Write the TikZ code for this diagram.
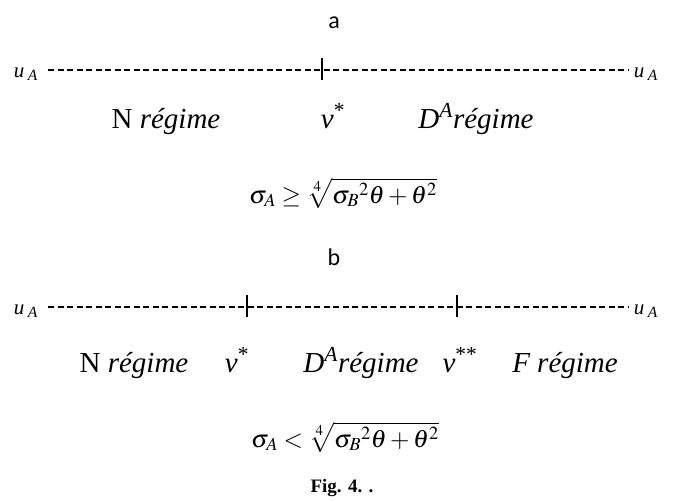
\documentclass[tikz,border=0pt]{standalone}
\usepackage{mathptmx}
\usepackage[no-math]{fontspec}
\setmainfont{Liberation Serif}
\newfontfamily\carlito{Carlito}
\usetikzlibrary{positioning}

\begin{document}
\begin{tikzpicture}[x=1pt, y=-1pt,
        panel/.style={inner sep=0pt, anchor=base, font=\carlito\fontsize{24}{28}\selectfont},
        ulbl/.style={inner sep=0pt, anchor=base, font=\fontsize{21}{25}\selectfont},
        txt/.style={inner sep=0pt, anchor=base, font=\fontsize{29}{34}\selectfont},
        frm/.style={inner sep=0pt, anchor=base, font=\fontsize{25}{30}\selectfont},
        figcap/.style={inner sep=0pt, anchor=base, font=\bfseries\fontsize{19}{22}\selectfont},
        axis/.style={line width=1.4pt, dash pattern=on 6pt off 3.5pt},
        tickmark/.style={line width=2pt}
    ]
    \useasboundingbox (0,0) rectangle (683,501);

    % panel a
    \node[panel] (pa) at (334,28) {a};
    \node[ulbl] (ua1) at (26,77) {\textit{u}\,\textsubscript{\textit{A}}};
    \node[ulbl] (ua2) at (646,77) {\textit{u}\,\textsubscript{\textit{A}}};
    \coordinate (la1) at (48,70);
    \coordinate (la2) at (628,70);
    \coordinate (ka) at (322,70);
    \draw[axis] (la1) -- (la2);
    \draw[tickmark] ([yshift=-10pt]ka) -- ([yshift=12pt]ka);

    \node[txt] (na) at (166,128) {N \textit{régime}};
    \node[txt] (va) at (333,128) {\textit{v}\textsuperscript{*}};
    \node[txt] (da) at (476,128) {\textit{D}\textsuperscript{\textit{A}}\textit{régime}};
    \node[frm] (fa) at (343,203) {$\sigma_{A} \geq \sqrt[4]{\sigma_{B}{}^{2}\theta+\theta^{2}}$};

    % panel b
    \node[panel] (pb) at (334,265) {b};
    \node[ulbl] (ub1) at (26,314) {\textit{u}\,\textsubscript{\textit{A}}};
    \node[ulbl] (ub2) at (646,314) {\textit{u}\,\textsubscript{\textit{A}}};
    \coordinate (lb1) at (48,307);
    \coordinate (lb2) at (628,307);
    \coordinate (kb1) at (247,307);
    \coordinate (kb2) at (457,307);
    \draw[axis] (lb1) -- (lb2);
    \draw[tickmark] ([yshift=-10pt]kb1) -- ([yshift=12pt]kb1);
    \draw[tickmark] ([yshift=-10pt]kb2) -- ([yshift=12pt]kb2);

    \node[txt] (nb) at (134,372) {N \textit{régime}};
    \node[txt] (vb1) at (237,372) {\textit{v}\textsuperscript{*}};
    \node[txt] (db) at (361,372) {\textit{D}\textsuperscript{\textit{A}}\textit{régime}};
    \node[txt] (vb2) at (460,372) {\textit{v}\textsuperscript{**}};
    \node[txt] (fb) at (565,372) {\textit{F régime}};
    \node[frm] (fr) at (345,447) {$\sigma_{A} < \sqrt[4]{\sigma_{B}{}^{2}\theta+\theta^{2}}$};

    \node[figcap] (cp) at (342,492) {Fig. 4. .};
\end{tikzpicture}
\end{document}
